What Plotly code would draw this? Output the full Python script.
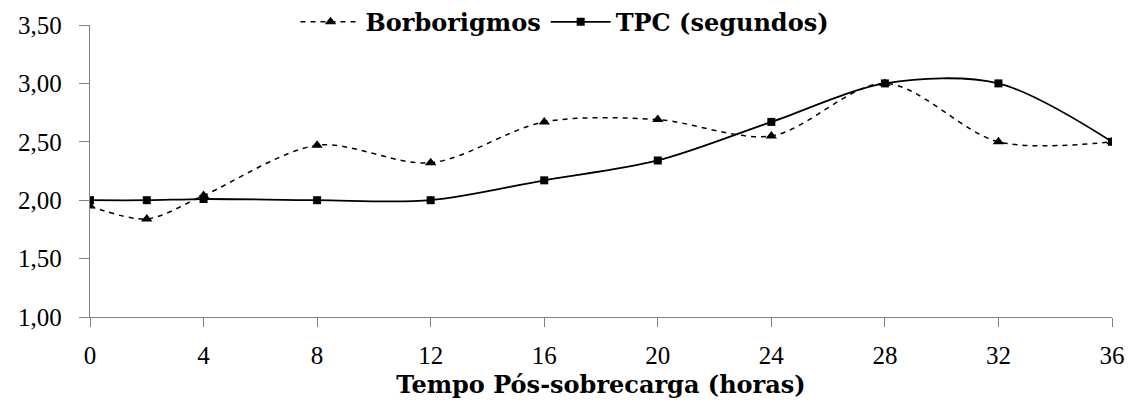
import plotly.graph_objects as go

horas = [0, 2, 4, 8, 12, 16, 20, 24, 28, 32, 36]
borborigmos = [1.95, 1.84, 2.04, 2.47, 2.32, 2.67, 2.69, 2.55, 3.00, 2.50, 2.50]
tpc = [2.00, 2.00, 2.01, 2.00, 2.00, 2.17, 2.34, 2.67, 3.00, 3.00, 2.50]
x_ticks = [0, 4, 8, 12, 16, 20, 24, 28, 32, 36]

serif = "Liberation Serif, Times New Roman, serif"
wide_serif = "DejaVu Serif, serif"

fig = go.Figure()
fig.add_trace(go.Scatter(
    x=horas, y=borborigmos, name='Borborigmos', mode='lines+markers',
    line=dict(color='black', width=1.5, dash='5px,5px', shape='spline', smoothing=0.9),
    marker=dict(symbol='triangle-up', size=10, color='black')
))
fig.add_trace(go.Scatter(
    x=horas, y=tpc, name='TPC (segundos)', mode='lines+markers',
    line=dict(color='black', width=1.8, shape='spline', smoothing=0.9),
    marker=dict(symbol='square', size=8, color='black')
))

fig.update_layout(
    width=1130, height=419,
    margin=dict(l=90, r=18, t=25, b=102, autoexpand=False),
    plot_bgcolor='white', paper_bgcolor='white',
    font=dict(family=serif, size=25, color='black'),
    separators=',.',
    showlegend=True,
    legend=dict(orientation='h', x=0.5, y=0.947, xref='container', yref='container',
                xanchor='center', yanchor='middle',
                font=dict(size=24, family=wide_serif, weight='bold'),
                itemwidth=60, bgcolor='rgba(0,0,0,0)'),
    xaxis=dict(
        range=[0, 36], tickvals=x_ticks, showgrid=False, zeroline=False,
        showline=True, linecolor='#808080', linewidth=1.3,
        ticks='outside', ticklen=9, tickcolor='#808080',
        ticklabelstandoff=7,
        title=dict(text='<b>Tempo Pós-sobrecarga (horas)</b>',
                   font=dict(size=24, family=wide_serif), standoff=8),
    ),
    yaxis=dict(
        range=[1, 3.5], dtick=0.5, tickformat='.2f', showgrid=False, zeroline=False,
        showline=True, linecolor='#808080', linewidth=1.3,
        ticks='outside', ticklen=10, tickcolor='#808080',
        ticklabelstandoff=12,
    ),
)

# drop the default body margin so the figure fills the window
fig.write_html("out.html", config={'displayModeBar': False},
               post_script="document.body.style.margin='0';")
